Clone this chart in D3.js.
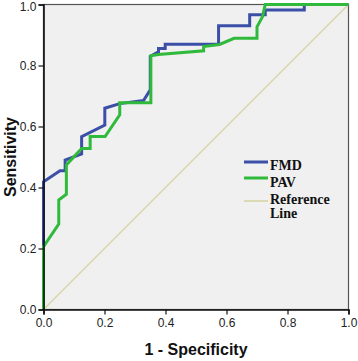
<!DOCTYPE html>
<head>
    <style>
        body { margin: 0; background: #fff; }
        .tick text { font-family: Arial, "Liberation Sans", sans-serif; font-size: 12px; fill: #222; }
        .axis-title { font-family: Arial, "Liberation Sans", sans-serif; font-size: 16px; font-weight: bold; fill: #111; }
        .legend text { font-family: "Liberation Serif", "Times New Roman", serif; font-size: 14px; font-weight: bold; fill: #111; }
        path.roc { fill: none; stroke-width: 3px; stroke-linejoin: miter; }
    </style>
</head>
<body>
    <script src="https://d3js.org/d3.v7.min.js"></script>
    <script>
        // ROC curve points: [1 - specificity, sensitivity]
        var fmd_x = [0, 0, 0.054, 0.071, 0.071, 0.125, 0.125, 0.201, 0.201, 0.25, 0.328, 0.35, 0.35, 0.377, 0.377, 0.399, 0.399, 0.574, 0.574, 0.676, 0.676, 0.727, 0.727, 0.855, 0.855, 1];
        var fmd_y = [0, 0.419, 0.455, 0.455, 0.49, 0.51, 0.567, 0.605, 0.66, 0.675, 0.685, 0.72, 0.83, 0.845, 0.856, 0.856, 0.87, 0.87, 0.93, 0.93, 0.966, 0.966, 0.982, 0.982, 1, 1];
        var pav_x = [0, 0, 0.05, 0.05, 0.075, 0.075, 0.125, 0.153, 0.153, 0.202, 0.25, 0.25, 0.352, 0.352, 0.377, 0.525, 0.525, 0.577, 0.625, 0.70, 0.70, 0.718, 0.727, 1];
        var pav_y = [0, 0.206, 0.28, 0.359, 0.378, 0.474, 0.528, 0.528, 0.567, 0.567, 0.638, 0.678, 0.678, 0.832, 0.836, 0.848, 0.862, 0.869, 0.889, 0.889, 0.927, 0.96, 1, 1];
        var ref_x = [0, 1];
        var ref_y = [0, 1];
        var ticks = [0, 0.2, 0.4, 0.6, 0.8, 1.0];
        var series = ['FMD', 'PAV', 'Reference Line'];
        var colors = ['#3b4fa6', '#2fba3c', '#d6d3a2'];

        var dim = {w: 305, h: 305, margin: {left: 43.5, top: 4.5}};

        var svg = d3.select('body')
                    .append('svg')
                    .attr('width', 358)
                    .attr('height', 361);

        var x_scale = d3.scaleLinear().domain([0, 1]).range([0, dim.w]);
        var y_scale = d3.scaleLinear().domain([0, 1]).range([dim.h, 0]);

        var g = svg.append('g')
                   .attr('transform', 'translate(' + dim.margin.left + ',' + dim.margin.top + ')');

        // plot background + frame
        g.append('rect')
         .attr('width', dim.w).attr('height', dim.h)
         .attr('fill', '#f0f0f0')
         .attr('stroke', '#555')
         .attr('stroke-width', 1.2);

        var line = d3.line()
                     .x(d => x_scale(d[0]))
                     .y(d => y_scale(d[1]));

        function pts(xs, ys) { return xs.map((v, i) => [v, ys[i]]); }

        g.append('path')
         .datum(pts(ref_x, ref_y))
         .attr('d', line)
         .attr('fill', 'none')
         .attr('stroke', colors[2])
         .attr('stroke-width', 1.2);

        g.append('path')
         .datum(pts(fmd_x, fmd_y))
         .attr('class', 'roc')
         .attr('d', line)
         .attr('stroke', colors[0]);

        g.append('path')
         .datum(pts(pav_x, pav_y))
         .attr('class', 'roc')
         .attr('d', line)
         .attr('stroke', colors[1]);

        // axes
        var fmt = d3.format('.1f');
        var xa = g.append('g')
                  .attr('transform', 'translate(0,' + dim.h + ')')
                  .call(d3.axisBottom(x_scale).tickValues(ticks).tickFormat(fmt).tickSizeOuter(0).tickSize(5).tickPadding(4));
        var ya = g.append('g')
                  .call(d3.axisLeft(y_scale).tickValues(ticks).tickFormat(fmt).tickSizeOuter(0).tickSize(5).tickPadding(2));
        [xa, ya].forEach(a => {
            a.select('.domain').attr('stroke', '#111').attr('stroke-width', 1.6);
            a.selectAll('.tick line').attr('stroke', '#111').attr('stroke-width', 1.2);
        });
        // keep top label inside the window
        ya.selectAll('.tick text').filter(d => d === 1).attr('dy', '0.52em');

        svg.append('text')
           .attr('class', 'axis-title')
           .attr('x', dim.margin.left + dim.w / 2)
           .attr('y', 355)
           .attr('text-anchor', 'middle')
           .text('1 - Specificity');

        svg.append('text')
           .attr('class', 'axis-title')
           .attr('transform', 'translate(16,' + (dim.margin.top + dim.h / 2) + ') rotate(-90)')
           .attr('text-anchor', 'middle')
           .text('Sensitivity');

        // legend
        var leg = svg.append('g').attr('class', 'legend');
        var ly = [166, 182, 205];
        series.forEach((s, i) => {
            leg.append('line')
               .attr('x1', 244).attr('x2', 268)
               .attr('y1', ly[i] - 4).attr('y2', ly[i] - 4)
               .attr('stroke', colors[i])
               .attr('stroke-width', i < 2 ? 3 : 1.5);
        });
        leg.append('text').attr('x', 270).attr('y', 170).text('FMD');
        leg.append('text').attr('x', 270).attr('y', 187).text('PAV');
        leg.append('text').attr('x', 270).attr('y', 204).text('Reference');
        leg.append('text').attr('x', 270).attr('y', 218).text('Line');
    </script>
</body>
